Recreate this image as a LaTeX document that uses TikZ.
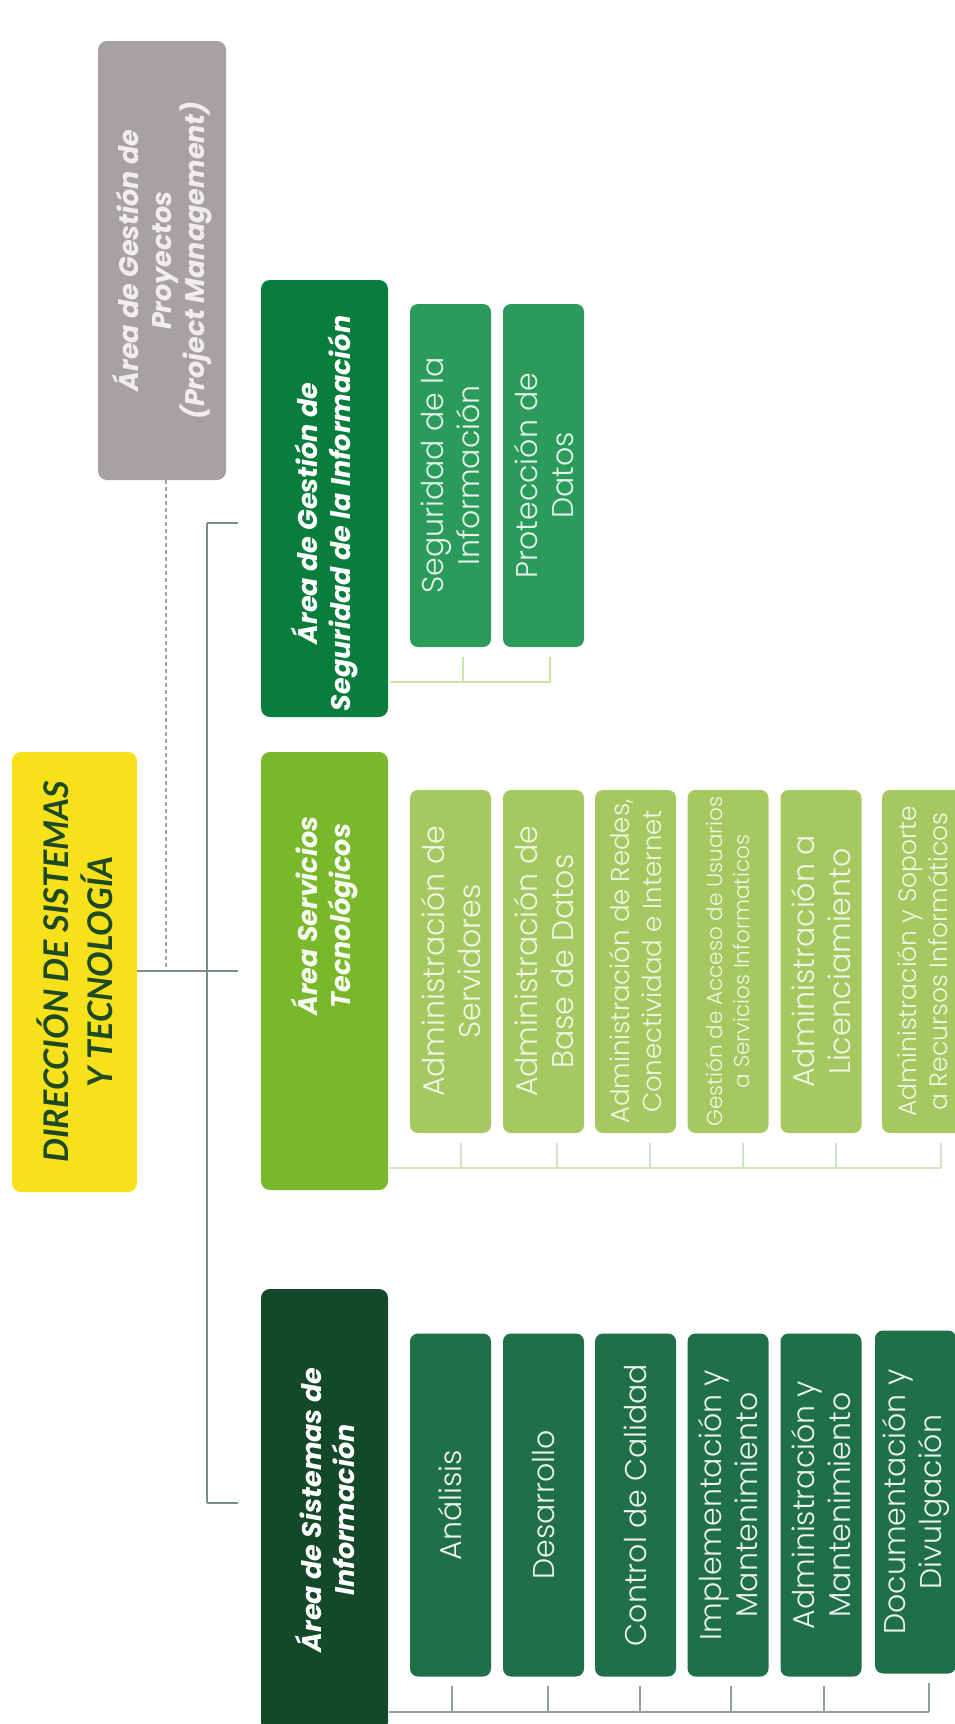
\documentclass[tikz,border=0pt]{standalone}
\usepackage{fontspec}
\setmainfont{Poppins}
\newfontfamily\latofont{Lato}
\newfontfamily\poplight{Poppins Light}
\definecolor{cgray}{HTML}{A6A2A3}
\definecolor{cgraytext}{HTML}{EFEDED}
\definecolor{cyellow}{HTML}{F7E11B}
\definecolor{cyelltext}{HTML}{1D4A23}
\definecolor{csec}{HTML}{087D3C}
\definecolor{csecsub}{HTML}{2B9B5C}
\definecolor{cser}{HTML}{79B82A}
\definecolor{csersub}{HTML}{A5C960}
\definecolor{csis}{HTML}{134828}
\definecolor{csissub}{HTML}{1F6F48}
\definecolor{cmain}{HTML}{7A8C84}
\definecolor{cdash}{HTML}{A3A3A3}
\definecolor{cseclink}{HTML}{CDE3A6}
\definecolor{cserlink}{HTML}{D3E3C6}
\definecolor{csislink}{HTML}{8FA096}
\begin{document}
\begin{tikzpicture}[x=1pt,y=-1pt,
  box/.style={rounded corners=9pt, inner sep=0pt, rotate=90, align=center},
  area/.style={box, minimum height=127pt, font=\fontsize{27}{33}\selectfont\bfseries\itshape},
  subbox/.style={box, rounded corners=8pt, minimum width=343pt, minimum height=81pt, font=\poplight\fontsize{30}{36}\selectfont},
  secsub/.style={subbox, fill=csecsub, text=white!88!csecsub},
  sersub/.style={subbox, fill=csersub, text=white!85!csersub},
  sissub/.style={subbox, fill=csissub, text=white!92!csissub},
  mainline/.style={draw=cmain, line width=1.6pt},
  seclink/.style={draw=cseclink, line width=2pt},
  serlink/.style={draw=cserlink, line width=2pt},
  sislink/.style={draw=csislink, line width=2pt}]
\useasboundingbox (0,0) rectangle (955,1724);
\fill[white] (0,0) rectangle (955,1724);

% top-level boxes
\node[area, fill=cgray, text=cgraytext, minimum width=439pt, minimum height=128pt] (pm) at (162,260.5)
  {Área de Gestión de\\Proyectos\\(Project Management)};
\node[box, fill=cyellow, text=cyelltext, minimum width=440pt, minimum height=125pt,
  font=\latofont\fontsize{34}{44}\selectfont\bfseries\itshape] (dir) at (74.5,972)
  {DIRECCIÓN DE SISTEMAS\\Y TECNOLOGÍA};

% area boxes
\node[area, fill=csec, text=white, minimum width=437pt] (sec) at (324.5,498.5)
  {Área de Gestión de\hspace*{30pt}\\Seguridad de la Información\hspace*{30pt}};
\node[area, fill=cser, text=white!94!cser, minimum width=438pt] (ser) at (324.5,971)
  {\hspace*{110pt}Área Servicios\\\hspace*{110pt}Tecnológicos};
\node[area, fill=csis, text=white, minimum width=442pt] (sis) at (324.5,1510)
  {Área de Sistemas de\\Información};

% security sub boxes
\node[secsub] (sec1) at (450.5,475.5) {Seguridad de la\\Información};
\node[secsub] (sec2) at (543.5,475.5) {Protección de\\Datos};

% services sub boxes
\node[sersub] (ser1) at (450.5,961.5) {Administración de\\Servidores};
\node[sersub] (ser2) at (543.5,961.5) {Administración de\\Base de Datos};
\node[sersub, font=\poplight\fontsize{26}{32}\selectfont] (ser3) at (635.5,961.5) {Administración de Redes,\\Conectividad e Internet};
\node[sersub, font=\poplight\fontsize{21.5}{27}\selectfont] (ser4) at (728,961.5) {Gestión de Acceso de Usuarios\\a Servicios Informaticos};
\node[sersub] (ser5) at (821,961.5) {Administración a\\Licenciamiento};
\node[sersub, font=\poplight\fontsize{25}{31}\selectfont] (ser6) at (922.5,961.5) {Administración y Soporte\\a Recursos Informáticos};

% information systems sub boxes
\node[sissub] (sis1) at (450.5,1505) {Análisis};
\node[sissub] (sis2) at (543.5,1505) {Desarrollo};
\node[sissub] (sis3) at (635.5,1505) {Control de Calidad};
\node[sissub] (sis4) at (728,1505) {Implementación y\\Mantenimiento};
\node[sissub] (sis5) at (821,1505) {Administración y\\Mantenimiento};
\node[sissub] (sis6) at (915.5,1502) {Documentación y\\Divulgación};

% main connectors
\coordinate (jD) at (166,971);
\coordinate (vTop) at (207,523);
\coordinate (vBot) at (207,1503);
\coordinate (tSec) at (238,523);
\coordinate (tSer) at (238,971);
\coordinate (tSis) at (238,1503);
\draw[draw=cdash, line width=1.4pt, dash pattern=on 4pt off 3pt] (pm.west -| jD) -- (jD);
\draw[mainline] (vTop) -- (vBot);
\draw[mainline] (vTop) -- (tSec);
\draw[mainline] (vBot) -- (tSis);
\draw[mainline] (dir.south |- tSer) -- (tSer);

% security links
\coordinate (s0) at (390,682);
\coordinate (s1) at (463,682);
\coordinate (s2) at (550,682);
\draw[seclink] (s0) -- (s2);
\draw[seclink, shorten >=10pt] (s1) -- (s1 |- sec1.west);
\draw[seclink, shorten >=10pt] (s2) -- (s2 |- sec2.west);

% services links
\coordinate (r0) at (389,1168);
\coordinate (r1) at (461,1168);
\coordinate (r2) at (557,1168);
\coordinate (r3) at (650,1168);
\coordinate (r4) at (743,1168);
\coordinate (r5) at (836,1168);
\coordinate (r6) at (941,1168);
\draw[serlink] (r0) -- (r6);
\foreach \i in {1,...,6}{
  \draw[serlink, shorten >=10pt] (r\i) -- (r\i |- ser\i.west);
}

% information systems links
\coordinate (i0) at (389,1712);
\coordinate (i1) at (452,1712);
\coordinate (i2) at (548,1712);
\coordinate (i3) at (640,1712);
\coordinate (i4) at (731,1712);
\coordinate (i5) at (824,1712);
\coordinate (i6) at (929,1712);
\draw[sislink] (i0) -- (i6);
\foreach \i in {1,...,6}{
  \draw[sislink, shorten >=9pt] (i\i) -- (i\i |- sis\i.west);
}
\end{tikzpicture}
\end{document}
